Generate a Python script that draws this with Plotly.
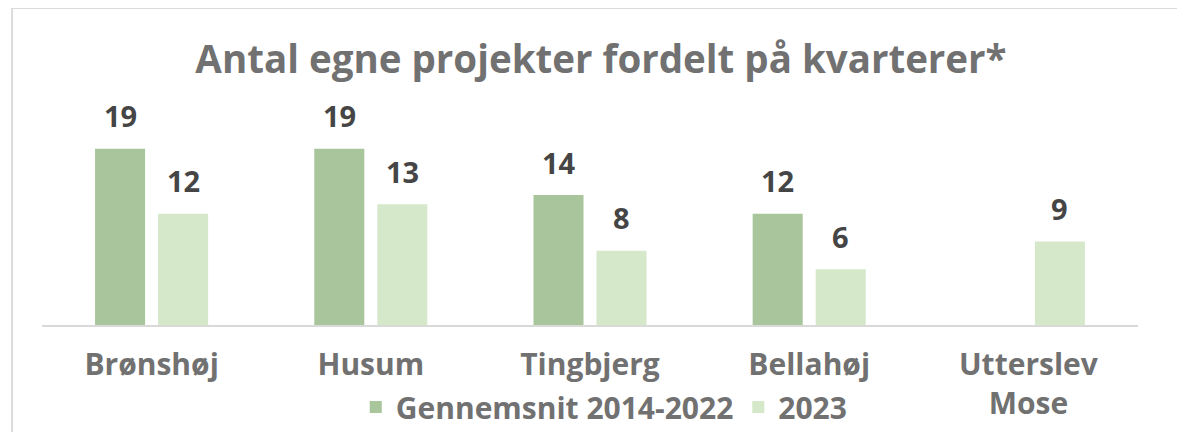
import plotly.graph_objects as go

categories = ["Brønshøj", "Husum", "Tingbjerg", "Bellahøj", "Utterslev<br>Mose"]
avg_2014_2022 = [19, 19, 14, 12, None]
values_2023 = [12, 13, 8, 6, 9]
series_names = ["<b>Gennemsnit 2014-2022</b>", "<b>2023</b>"]

DARK = "#A9C59B"
LIGHT = "#D5E8CA"
GRAY = "#717171"
LABEL = "#454545"
FONT = "Open Sans"

fig = go.Figure()
fig.add_trace(go.Bar(x=categories, y=avg_2014_2022, name=series_names[0],
                     marker=dict(color=DARK, line=dict(width=0))))
fig.add_trace(go.Bar(x=categories, y=values_2023, name=series_names[1],
                     marker=dict(color=LIGHT, line=dict(width=0))))

# value labels
for vals, shift in ((avg_2014_2022, -31.5), (values_2023, 31.5)):
    for c, v in zip(categories, vals):
        if v is None:
            continue
        fig.add_annotation(x=c, y=v, text=f"<b>{v}</b>", showarrow=False,
                           xshift=shift, yshift=33, yanchor="middle",
                           font=dict(family=FONT, size=29, color=LABEL))

# outer frame (top and left edges visible)
fig.add_shape(type="line", xref="paper", yref="paper", x0=-0.0273, x1=1.2,
              y0=1.366, y1=1.366, line=dict(color="#DCDCDC", width=2))
fig.add_shape(type="line", xref="paper", yref="paper", x0=-0.0273, x1=-0.0273,
              y0=1.366, y1=-0.6, line=dict(color="#DCDCDC", width=2))

fig.update_layout(
    width=1185, height=432,
    margin=dict(l=34, r=55, t=85, b=115, autoexpand=False),
    paper_bgcolor="white", plot_bgcolor="white",
    barmode="group", bargap=0.425, bargroupgap=0.206,
    title=dict(text="<b>Antal egne projekter fordelt på kvarterer*</b>",
               xref="container", x=0.5004, xanchor="center",
               yref="container", y=0.88, yanchor="middle",
               font=dict(family=FONT, size=38.5, color=GRAY)),
    showlegend=True,
    legend=dict(orientation="h", xanchor="center", x=0.513,
                yanchor="middle", y=-0.353,
                font=dict(family=FONT, size=30, color=GRAY),
                itemsizing="constant", tracegroupgap=0,
                bgcolor="rgba(0,0,0,0)"),
    xaxis=dict(showline=True, linecolor="#D9D9D9", linewidth=2,
               ticks="", showgrid=False, automargin=False,
               tickfont=dict(family=FONT, size=30, color=GRAY),
               ticklabelstandoff=12),
    yaxis=dict(range=[0, 25], visible=False, showgrid=False, zeroline=False,
               automargin=False),
)
fig.update_xaxes(tickprefix="<b>", ticksuffix="</b>")

fig.write_html("out.html")
